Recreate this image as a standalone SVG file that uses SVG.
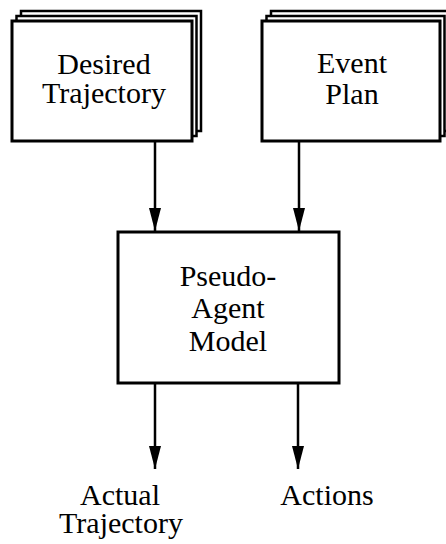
<svg xmlns="http://www.w3.org/2000/svg" width="446" height="544" viewBox="0 0 446 544">
<defs>
<style>
.box{fill:#fff;stroke:#000;stroke-width:3}
.back{fill:#fff;stroke:#000;stroke-width:2.5}
.lbl{font-family:"Liberation Serif","Times New Roman",serif;font-size:30px;fill:#000;text-anchor:middle}
.edge{stroke:#000;stroke-width:2.5;fill:none}
</style>
<marker id="ah" markerUnits="userSpaceOnUse" markerWidth="23" markerHeight="12" refX="23" refY="6" viewBox="0 0 23 12" orient="auto">
<path d="M0,0 L23,6 L0,12 Z" fill="#000"/>
</marker>
</defs>
<rect width="446" height="544" fill="#fff"/>
<g id="desired-trajectory">
<rect class="back" x="21" y="11" width="180" height="120"/>
<rect class="back" x="16.5" y="16" width="180" height="120"/>
<rect class="box" x="12" y="21" width="180" height="120"/>
<text class="lbl" x="104" y="74">Desired</text>
<text class="lbl" x="104" y="103">Trajectory</text>
</g>
<g id="event-plan">
<rect class="back" x="271" y="11" width="178" height="120"/>
<rect class="back" x="266.5" y="16" width="178" height="120"/>
<rect class="box" x="262" y="21" width="178" height="120"/>
<text class="lbl" x="352" y="73">Event</text>
<text class="lbl" x="352" y="104">Plan</text>
</g>
<g id="pseudo-agent-model">
<rect class="box" x="118" y="232" width="221" height="151"/>
<text class="lbl" x="228" y="286">Pseudo-</text>
<text class="lbl" x="228" y="318">Agent</text>
<text class="lbl" x="228" y="351">Model</text>
</g>
<g id="actual-trajectory">
<text class="lbl" x="120" y="505">Actual</text>
<text class="lbl" x="121" y="533">Trajectory</text>
</g>
<g id="actions">
<text class="lbl" x="327" y="505">Actions</text>
</g>
<g id="connectors">
<line class="edge" x1="155" y1="142" x2="155" y2="231" marker-end="url(#ah)"/>
<line class="edge" x1="299" y1="142" x2="299" y2="231" marker-end="url(#ah)"/>
<line class="edge" x1="155" y1="384" x2="155" y2="469" marker-end="url(#ah)"/>
<line class="edge" x1="298" y1="384" x2="298" y2="469" marker-end="url(#ah)"/>
</g>
</svg>
